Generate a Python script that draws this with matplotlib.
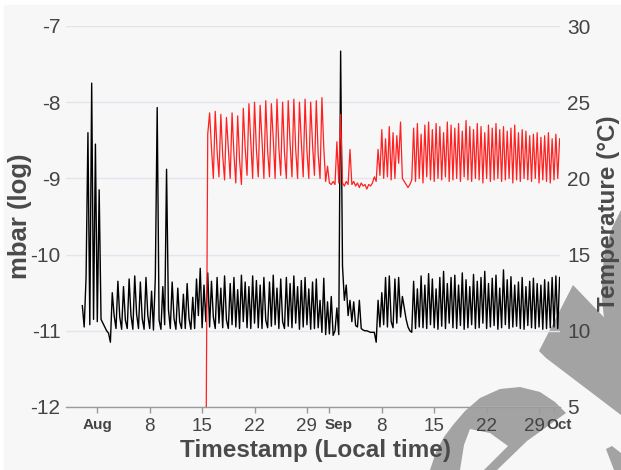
import matplotlib
matplotlib.use("Agg")
import matplotlib.pyplot as plt
import matplotlib.transforms as mtransforms
from matplotlib.patches import Polygon, Rectangle
import pandas as pd

plt.rcParams["font.family"] = ["Liberation Sans", "DejaVu Sans"]
plt.rcParams["axes.unicode_minus"] = False

# log10 of pressure (mbar), one reading every 6 h starting 30 Jul 00:00
pressure_log = [
    -10.67, -10.95, -10.30, -8.40,    # Jul 30
    -10.92, -7.75, -10.85, -8.55,     # Jul 31
    -10.88, -9.15, -10.85, -10.90,    # Aug 1
    -10.95, -11.00, -11.03, -11.15,
    -10.50, -10.80, -10.97, -10.35,
    -10.82, -10.98, -10.42, -10.86,
    -10.97, -10.32, -10.80, -10.98,
    -10.28, -10.78, -10.97, -10.36,
    -10.84, -10.98, -10.30, -10.80,
    -10.97, -10.48, -10.99, -10.30,
    -8.07, -10.86, -10.98, -10.42,    # Aug 9
    -10.92, -8.88, -10.72, -10.97,
    -10.36, -10.84, -10.98, -10.44,
    -10.88, -10.97, -10.52, -10.97,
    -10.38, -10.84, -10.98, -10.56,
    -10.97, -10.32, -10.80, -10.18,
    -10.96, -10.40, -10.88, -10.24,   # Aug 15
    -10.95, -10.35, -10.82, -10.97,
    -10.30, -10.90, -10.44, -10.96,
    -10.28, -10.86, -10.97, -10.38,
    -10.92, -10.30, -10.95, -10.46,
    -10.97, -10.27, -10.88, -10.36,
    -10.96, -10.42, -10.97, -10.28,
    -10.90, -10.34, -10.96, -10.40,   # Aug 22
    -10.97, -10.30, -10.86, -10.96,
    -10.36, -10.94, -10.27, -10.92,
    -10.44, -10.97, -10.32, -10.88,
    -10.97, -10.30, -10.94, -10.38,
    -10.96, -10.28, -10.90, -10.42,
    -10.98, -10.34, -10.95, -10.30,
    -10.92, -10.45, -10.98, -10.36,   # Aug 29
    -10.97, -10.32, -10.96, -10.60,
    -11.02, -10.31, -11.05, -10.62,
    -11.04, -10.55, -11.06, -11.00,   # Sep 1
    -10.70, -11.05, -7.33, -10.15,
    -10.60, -10.40, -10.80, -10.60,
    -10.88, -10.62, -10.93, -10.95,
    -10.60, -10.97, -10.99, -11.00,
    -11.00, -11.01, -11.02, -11.02,
    -11.02, -11.15, -10.60, -10.95,
    -10.50, -10.92, -10.30, -10.95,   # Sep 8
    -10.28, -10.88, -10.96, -10.32,
    -10.90, -10.30, -10.82, -10.55,
    -10.70, -10.85, -10.95, -11.00,
    -11.02, -10.35, -10.97, -10.45,
    -10.95, -10.28, -10.96, -10.40,
    -10.97, -10.25, -10.92, -10.32,
    -10.96, -10.45, -10.98, -10.30,   # Sep 15
    -10.94, -10.22, -10.97, -10.38,
    -10.90, -10.30, -10.96, -10.27,
    -10.97, -10.40, -10.93, -10.24,
    -10.98, -10.33, -10.96, -10.42,
    -10.92, -10.26, -10.97, -10.35,
    -10.96, -10.30, -10.90, -10.22,
    -10.97, -10.38, -10.95, -10.31,   # Sep 22
    -10.93, -10.27, -10.98, -10.44,
    -10.96, -10.20, -10.92, -10.33,
    -10.97, -10.29, -10.95, -10.40,
    -10.94, -10.36, -10.97, -10.30,
    -10.98, -10.42, -10.93, -10.35,
    -10.96, -10.31, -10.97, -10.38,
    -10.95, -10.40, -10.98, -10.33,   # Sep 29
    -10.97, -10.36, -10.96, -10.30,
    -10.95, -10.28, -10.97, -10.30,   # Oct 1
]

# temperature (deg C), one reading every 6 h starting 15 Aug 12:00
temperature_c = [
    0.0, 22.9,
    24.3, 22.0, 20.0, 24.4,   # Aug 16
    21.8, 20.1, 24.2, 21.5,
    19.9, 24.0, 22.0, 20.0,
    24.3, 21.6, 19.7, 24.1,
    21.2, 19.6, 24.6, 22.0,
    20.2, 24.9, 22.4, 20.0,
    25.0, 21.9, 20.1, 24.8,   # Aug 22
    22.5, 20.0, 25.1, 21.8,
    20.1, 24.9, 22.6, 20.0,
    25.2, 22.0, 20.2, 25.0,
    21.7, 20.0, 25.1, 22.3,
    20.1, 25.2, 21.9, 20.0,
    25.0, 22.4, 20.1, 25.2,
    21.8, 20.0, 25.0, 22.2,   # Aug 29
    20.2, 25.1, 21.6, 20.0,
    25.3, 22.0, 19.8, 20.8,
    19.7, 19.6, 19.8, 19.6,   # Sep 1
    22.4, 19.7, 24.2, 19.7,
    19.5, 19.8, 19.6, 21.9,
    19.6, 19.8, 19.5, 19.7,
    19.4, 19.7, 19.5, 19.6,
    19.3, 19.6, 19.5, 19.7,
    20.1, 19.8, 21.9, 20.2,
    23.2, 20.0, 22.6, 20.1,   # Sep 8
    23.4, 19.9, 23.0, 20.0,
    22.8, 21.0, 23.7, 20.0,
    19.8, 19.6, 19.4, 19.6,
    19.9, 23.3, 19.8, 23.6,
    20.0, 22.9, 19.7, 23.5,
    20.1, 23.7, 19.9, 23.2,
    19.8, 23.6, 20.0, 23.4,   # Sep 15
    19.9, 23.0, 20.1, 23.7,
    19.8, 23.5, 19.9, 23.3,
    20.0, 23.6, 19.8, 23.1,
    20.1, 23.8, 19.9, 23.4,
    19.8, 23.2, 20.0, 23.6,
    19.9, 23.4, 19.7, 23.0,
    20.0, 23.5, 19.8, 23.3,   # Sep 22
    19.9, 23.6, 20.0, 23.2,
    19.8, 23.4, 19.9, 23.1,
    20.0, 23.3, 19.7, 23.5,
    19.9, 23.0, 19.8, 23.2,
    20.0, 23.1, 19.9, 22.8,
    19.8, 22.9, 20.0, 23.0,
    19.7, 22.7, 19.9, 22.8,   # Sep 29
    19.8, 23.0, 19.7, 22.6,
    19.9, 22.9, 20.0, 22.6,   # Oct 1
]

tick_dates = ["2023-08-01", "2023-08-08", "2023-08-15", "2023-08-22", "2023-08-29",
              "2023-09-01", "2023-09-08", "2023-09-15", "2023-09-22", "2023-09-29",
              "2023-10-01"]
tick_labels = ["Aug", "8", "15", "22", "29", "Sep", "8", "15", "22", "29", "Oct"]
pressure_ticks = [-12, -11, -10, -9, -8, -7]
temperature_ticks = [5, 10, 15, 20, 25, 30]

press_time = pd.date_range("2023-07-30 00:00", periods=len(pressure_log), freq="6h")
temp_time = pd.date_range("2023-08-15 12:00", periods=len(temperature_c), freq="6h")

W, H = 621, 470
fig = plt.figure(figsize=(W / 100, H / 100), dpi=100, facecolor="white")


def px(points):
    return [(x / W, 1 - y / H) for x, y in points]


# page background and the grey watermark shapes sitting behind the plot
fig.patches.append(Rectangle((4 / W, 0), 1, 1 - 5 / H, transform=fig.transFigure,
                             color="#f7f7f7", zorder=-3))
shapes = [
    # arc band with an inner leg, bottom centre-right
    [(430, 470), (436, 452), (444, 437), (453, 425), (465, 411), (480, 398), (500, 389),
     (520, 387), (540, 392), (555, 402), (566, 413), (527, 441), (497, 470), (484, 470),
     (508, 446), (490, 433), (470, 429), (464, 445), (460, 470)],
    [(573, 285), (621, 335), (621, 415), (546, 358), (539, 351)],
    [(621, 210), (612, 228), (605, 250), (602, 275), (602, 300), (604, 318), (621, 336)],
    [(606, 449), (612, 446), (621, 453), (621, 470), (614, 470)],
]
for s in shapes:
    fig.patches.append(Polygon(px(s), closed=True, transform=fig.transFigure,
                               facecolor="#a3a3a3", edgecolor="none", zorder=-2))

ax = fig.add_axes([66 / W, 1 - 407 / H, 494 / W, 381 / H])
ax.set_facecolor("none")
ax2 = ax.twinx()

ax.plot(press_time, pressure_log, color="black", lw=1.0)
ax2.plot(temp_time, temperature_c, color="#ff2020", lw=0.9)

ax.set_ylim(-12, -7)
ax2.set_ylim(5, 30)
ax.set_yticks(pressure_ticks)
ax2.set_yticks(temperature_ticks)
x0 = pd.Timestamp("2023-08-01")
ax.set_xlim(x0 - pd.Timedelta(days=4.18), x0 + pd.Timedelta(days=61.8))

ax.yaxis.grid(True, color="#e4e4ee", lw=1)
ax.set_axisbelow(True)
for sp in ["top", "left", "right"]:
    ax.spines[sp].set_visible(False)
for sp in ax2.spines.values():
    sp.set_visible(False)
ax.spines["bottom"].set_color("#9a9a9a")
ax.spines["bottom"].set_linewidth(1.0)

ax.tick_params(axis="y", length=0, pad=4, labelsize=15, labelcolor="#444444")
ax2.tick_params(axis="y", length=0, pad=5, labelsize=15, labelcolor="#444444")
ax.set_xticks(pd.to_datetime(tick_dates))
ax.set_xticklabels(tick_labels)
ax.tick_params(axis="x", length=4, width=1, color="#9a9a9a", pad=4,
               labelsize=13.5, labelcolor="#444444")

# the month names sit a little off their tick in the original; nudge them
nudge_px = {5: 9, 9: -5, 10: 5}
for i, lab in enumerate(ax.get_xticklabels()):
    if lab.get_text() in ("Aug", "Sep", "Oct"):
        lab.set_fontsize(11)
        lab.set_fontweight("bold")
    if i in nudge_px:
        off = mtransforms.ScaledTranslation(nudge_px[i] / 100, 0, fig.dpi_scale_trans)
        lab.set_transform(lab.get_transform() + off)

title_color = "#4a4a4a"
fig.text(20 / W, 1 - 216 / H, "mbar (log)", rotation=90, ha="center", va="center",
         fontsize=18.5, fontweight="bold", color=title_color)
fig.text(608 / W, 1 - 213 / H, "Temperature (°C)", rotation=90, ha="center", va="center",
         fontsize=17.5, fontweight="bold", color=title_color)
fig.text(316 / W, 1 - 450 / H, "Timestamp (Local time)", ha="center", va="center",
         fontsize=17.5, fontweight="bold", color=title_color)

fig.savefig("out.png", dpi=100, facecolor=fig.get_facecolor())
